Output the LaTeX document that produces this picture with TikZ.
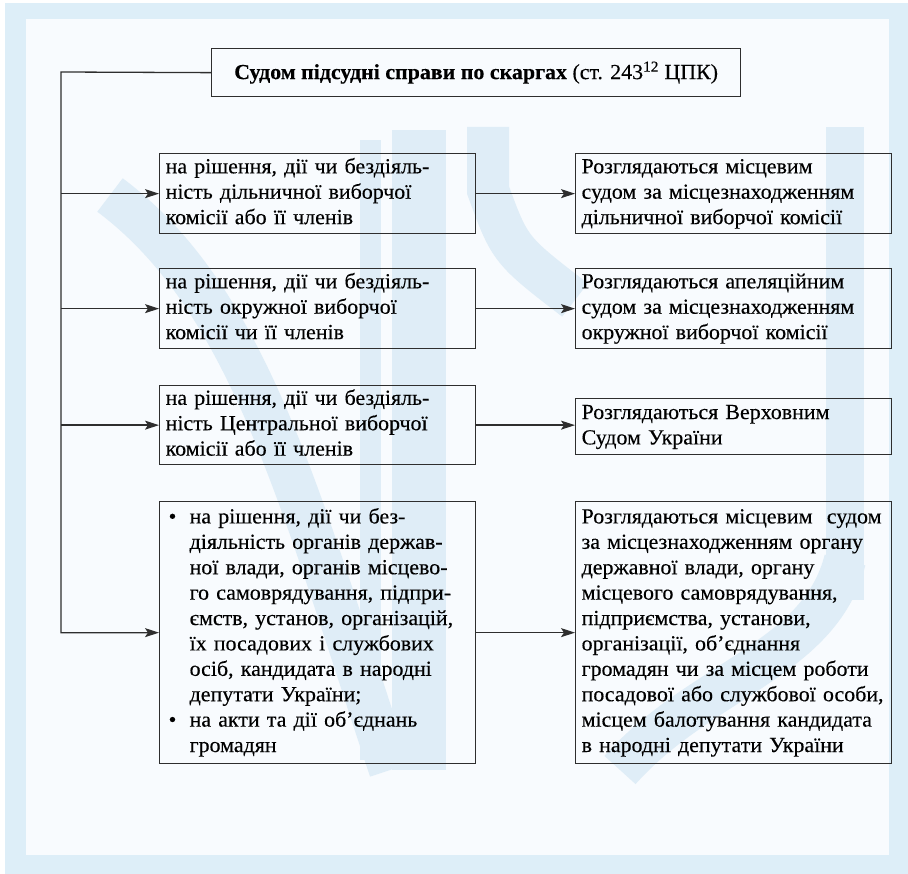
\documentclass[tikz,border=0pt]{standalone}
\usepackage{fontspec}
\setmainfont[FakeStretch=1.02,FakeBold=0.25]{Liberation Serif}
\usetikzlibrary{arrows.meta}
\definecolor{outerbg}{HTML}{DDEEF8}
\definecolor{innerbg}{HTML}{F8FBFE}
\definecolor{wm}{HTML}{DFEDF7}
\definecolor{ink}{HTML}{2E2E2E}
\tikzset{
  box/.style={draw=ink, line width=1.3pt, rectangle, anchor=north west,
    inner xsep=6pt, inner ysep=0pt, text width=304pt, minimum width=316pt,
    align=left, font=\fontsize{21.5}{25.4}\selectfont, text=black},
  titlebox/.style={draw=ink, line width=1.3pt, rectangle, anchor=north west,
    minimum width=529pt, minimum height=48pt, inner sep=0pt, align=center,
    font=\fontsize{21.5}{25.4}\selectfont},
  conn/.style={draw=ink, line width=1.3pt},
  arr/.style={conn, -{Stealth[length=14pt,width=9pt,inset=3pt]}},
  wmband/.style={draw=wm, line width=42pt}
}
\newcommand{\bul}{\makebox[24pt][l]{\hspace{3pt}\textbullet}}
\newcommand{\ind}{\hspace*{24pt}}
\newcommand{\lines}[1]{\begin{tabular}{@{}l@{}}#1\end{tabular}}
\begin{document}
\begin{tikzpicture}[x=1pt,y=-1pt]
\useasboundingbox (0,0) rectangle (908,874);
% background
\fill[white] (0,0) rectangle (908,874);
\fill[outerbg] (5,3) rectangle (908,874);
\fill[innerbg] (26,19) rectangle (889,855);
% watermark (approximate)
\fill[wm] (392,130) rectangle (446,770);
\fill[wm] (360,140) rectangle (381,760);
\fill[wm] (826,127) rectangle (864,600);
\draw[wmband] (110,195) .. controls (250,300) and (300,500) .. (390,770);
\draw[wmband] (488,127) -- (488,190) .. controls (510,250) .. (575,300);
\draw[wmband] (845,560) .. controls (820,660) and (700,680) .. (620,770);
% nodes
\node[titlebox] (title) at (211,48) {\textbf{Судом підсудні справи по скаргах} (ст. 243\textsuperscript{12} ЦПК)};
\node[box, minimum height=80pt] (l1) at (159,153) {\lines{на рішення, дії чи бездіяль-\\ність дільничної виборчої\\комісії або її членів}};
\node[box, minimum height=80pt] (l2) at (159,268) {\lines{на рішення, дії чи бездіяль-\\ність окружної виборчої\\комісії чи її членів}};
\node[box, minimum height=79pt] (l3) at (159,385) {\lines{на рішення, дії чи бездіяль-\\ність Центральної виборчої\\комісії або її членів}};
\node[box, minimum height=262pt] (l4) at (159,501) {\lines{\bul на рішення, дії чи без-\\\ind діяльність органів держав-\\\ind ної влади, органів місцево-\\\ind го самоврядування, підпри-\\\ind ємств, установ, організацій,\\\ind їх посадових і службових\\\ind осіб, кандидата в народні\\\ind депутати України;\\\bul на акти та дії об’єднань\\\ind громадян}};
\node[box, minimum height=80pt] (r1) at (575,153) {\lines{Розглядаються місцевим\\судом за місцезнаходженням\\дільничної виборчої комісії}};
\node[box, minimum height=80pt] (r2) at (575,268) {\lines{Розглядаються апеляційним\\судом за місцезнаходженням\\окружної виборчої комісії}};
\node[box, minimum height=56pt] (r3) at (575,398) {\lines{Розглядаються Верховним\\Судом України}};
\node[box, minimum height=262pt] (r4) at (575,501) {\lines{Розглядаються місцевим\ \ судом\\за місцезнаходженням органу\\державної влади, органу\\місцевого самоврядування,\\підприємства, установи,\\організації, об’єднання\\громадян чи за місцем роботи\\посадової або службової особи,\\місцем балотування кандидата\\в народні депутати України}};
% connectors
\coordinate (sp) at (61,72);
\draw[arr] (title.west) -- (sp) -- (sp |- l4.west) -- (l4.west);
\draw[arr] (sp |- l1.west) -- (l1.west);
\draw[arr] (sp |- l2.west) -- (l2.west);
\draw[arr] (sp |- l3.west) -- (l3.west);
\draw[arr] (l1.east) -- (l1.east -| r1.west);
\draw[arr] (l2.east) -- (l2.east -| r2.west);
\draw[arr] (l3.east) -- (l3.east -| r3.west);
\draw[arr] (l4.east) -- (l4.east -| r4.west);
\end{tikzpicture}
\end{document}
